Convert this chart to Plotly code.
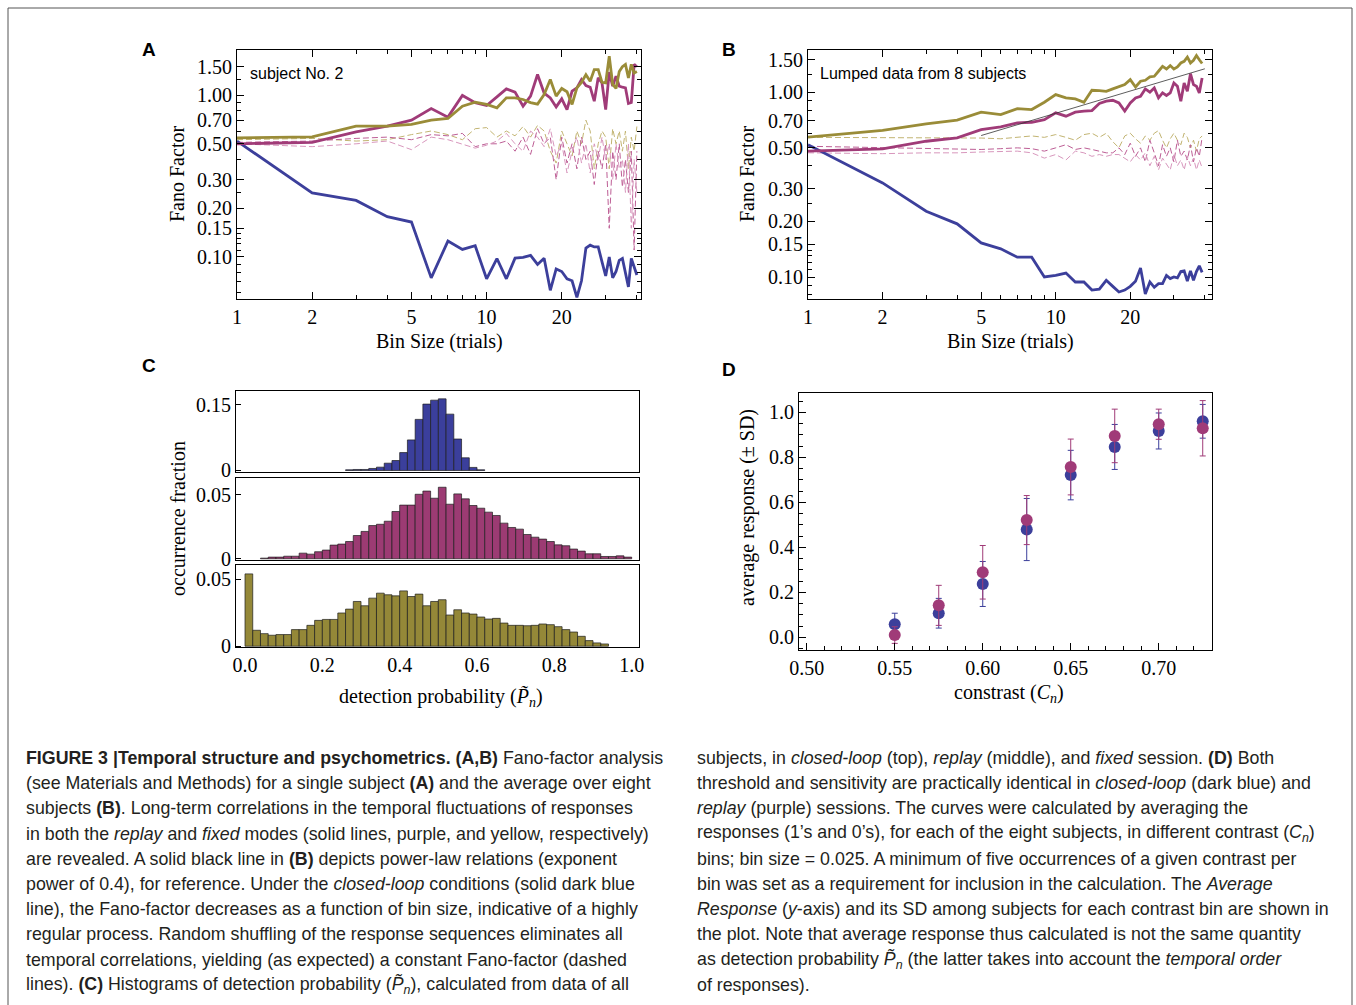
import plotly.graph_objects as go

W, H = 1356, 1005
def px(x): return x / W
def py(y): return 1 - y / H

BLUE = "#3c3f9b"
PURPLE = "#a03b78"
OLIVE = "#9a8c38"
D_OLIVE = "#c2b472"
D_PURPLE = "#bd5e95"
D_PINK = "#d897bd"

# ---------------- Panel A : subject No. 2 ----------------
bins_A = list(range(1, 41))
closed_A = [0.52, 0.248, 0.223, 0.177, 0.164, 0.074, 0.125, 0.111, 0.117, 0.073,
            0.0975, 0.073, 0.098, 0.099, 0.102, 0.0896, 0.098, 0.062, 0.084, 0.081,
            0.073, 0.071, 0.056, 0.071, 0.113, 0.118, 0.115, 0.115, 0.093, 0.076,
            0.0995, 0.074, 0.081, 0.095, 0.0975, 0.078, 0.065, 0.0975, 0.085, 0.077]
replay_A = [0.50, 0.51, 0.593, 0.643, 0.70, 0.827, 0.731, 0.996, 0.897, 0.863,
            0.976, 1.094, 1.044, 0.855, 0.986, 1.343, 1.03, 0.962, 0.846, 0.949,
            0.815, 1.059, 1.11, 1.25, 1.148, 1.12, 0.918, 1.28, 1.19, 0.815,
            1.39, 1.137, 1.31, 1.137, 1.12, 1.11, 0.888, 0.9, 1.55, 1.5]
fixed_A = [0.544, 0.552, 0.643, 0.643, 0.66, 0.70, 0.717, 0.855, 0.905, 0.876,
           0.835, 0.962, 0.962, 0.94, 0.9, 0.88, 1.01, 1.25, 0.986, 1.1,
           1.05, 0.876, 1.11, 1.2, 1.34, 1.22, 1.44, 1.44, 1.2, 1.19,
           1.74, 1.165, 1.1, 1.4, 1.5, 1.55, 1.28, 1.55, 1.37, 1.4]
shuf_fixed_A = [0.53, 0.54, 0.52, 0.53, 0.57, 0.6, 0.57, 0.53, 0.62, 0.63,
                0.55, 0.6, 0.56, 0.64, 0.55, 0.65, 0.6, 0.45, 0.38, 0.6,
                0.5, 0.42, 0.6, 0.5, 0.7, 0.6, 0.35, 0.5, 0.6, 0.55,
                0.35, 0.62, 0.5, 0.6, 0.45, 0.6, 0.35, 0.55, 0.45, 0.64]
shuf_replay_A = [0.51, 0.52, 0.54, 0.55, 0.53, 0.57, 0.56, 0.58, 0.48, 0.5,
                 0.5, 0.52, 0.45, 0.55, 0.43, 0.62, 0.5, 0.55, 0.3, 0.55,
                 0.38, 0.5, 0.35, 0.55, 0.4, 0.45, 0.28, 0.45, 0.35, 0.5,
                 0.15, 0.45, 0.3, 0.5, 0.27, 0.4, 0.25, 0.45, 0.11, 0.45]
shuf_closed_A = [0.50, 0.48, 0.50, 0.52, 0.46, 0.55, 0.53, 0.5, 0.47, 0.49,
                 0.52, 0.58, 0.5, 0.45, 0.6, 0.55, 0.48, 0.62, 0.42, 0.5,
                 0.33, 0.45, 0.55, 0.38, 0.5, 0.33, 0.5, 0.4, 0.55, 0.4,
                 0.5, 0.3, 0.5, 0.35, 0.4, 0.25, 0.5, 0.15, 0.4, 0.25]

# ---------------- Panel B : lumped data ----------------
bins_B = list(range(1, 40))
closed_B = [0.52, 0.323, 0.227, 0.194, 0.153, 0.142, 0.128, 0.128, 0.1, 0.102,
            0.105, 0.094, 0.094, 0.085, 0.086, 0.096, 0.089, 0.083, 0.085, 0.089,
            0.095, 0.112, 0.081, 0.094, 0.088, 0.092, 0.092, 0.102, 0.098, 0.1,
            0.099, 0.107, 0.108, 0.095, 0.108, 0.096, 0.107, 0.115, 0.106]
replay_B = [0.48, 0.494, 0.543, 0.566, 0.628, 0.65, 0.683, 0.688, 0.711, 0.773,
            0.742, 0.78, 0.79, 0.796, 0.869, 0.894, 0.905, 0.875, 0.79, 0.875,
            0.932, 0.951, 1.042, 1.0, 1.055, 0.932, 0.992, 0.96, 0.992, 1.123,
            1.077, 0.894, 1.123, 1.012, 1.26, 1.1, 1.077, 0.992, 1.195]
fixed_B = [0.571, 0.621, 0.674, 0.706, 0.78, 0.757, 0.816, 0.806, 0.883, 0.971,
           0.932, 0.92, 0.883, 1.025, 1.02, 1.012, 1.042, 1.077, 1.1, 1.17,
           1.068, 1.147, 1.161, 1.21, 1.22, 1.299, 1.38, 1.337, 1.394, 1.337,
           1.37, 1.44, 1.47, 1.55, 1.44, 1.49, 1.58, 1.5, 1.43]
shuf_fixed_B = [0.57, 0.57, 0.565, 0.565, 0.565, 0.56, 0.57, 0.58, 0.57, 0.59,
                0.57, 0.55, 0.59, 0.6, 0.57, 0.6, 0.54, 0.5, 0.58, 0.6,
                0.56, 0.53, 0.58, 0.55, 0.6, 0.62, 0.55, 0.5, 0.56, 0.6,
                0.55, 0.52, 0.6, 0.57, 0.5, 0.55, 0.48, 0.56, 0.58]
shuf_replay_B = [0.51, 0.5, 0.495, 0.49, 0.49, 0.495, 0.5, 0.495, 0.48, 0.5,
                 0.52, 0.49, 0.5, 0.49, 0.48, 0.47, 0.47, 0.5, 0.46, 0.53,
                 0.45, 0.5, 0.42, 0.55, 0.47, 0.4, 0.52, 0.45, 0.5, 0.42,
                 0.55, 0.45, 0.48, 0.43, 0.52, 0.42, 0.5, 0.45, 0.57]
shuf_closed_B = [0.47, 0.465, 0.47, 0.47, 0.475, 0.48, 0.48, 0.47, 0.44, 0.46,
                 0.43, 0.48, 0.47, 0.45, 0.46, 0.45, 0.46, 0.46, 0.44, 0.42,
                 0.46, 0.43, 0.47, 0.4, 0.45, 0.38, 0.44, 0.41, 0.38, 0.46,
                 0.4, 0.43, 0.38, 0.45, 0.4, 0.44, 0.38, 0.43, 0.39]
powerlaw_bins = [5, 40]
powerlaw_exp = 0.4
powerlaw_ref = 0.583   # value at bin size 5

# ---------------- Panel C : histograms ----------------
hist_width = 0.02
closed_lo = 0.26
closed_hist = [0.0015, 0.0023, 0.0023, 0.0046, 0.0076, 0.0167, 0.0228, 0.041, 0.07,
               0.117, 0.152, 0.161, 0.164, 0.129, 0.072, 0.029, 0.007, 0.0015]
replay_lo = 0.04
replay_hist = [0.0005, 0.0013, 0.0013, 0.002, 0.002, 0.0044, 0.0036, 0.0055, 0.0068,
               0.0107, 0.0115, 0.0135, 0.0182, 0.0214, 0.026, 0.027, 0.0294, 0.037,
               0.042, 0.042, 0.0505, 0.053, 0.0474, 0.056, 0.0427, 0.0508, 0.0469,
               0.0417, 0.0396, 0.0365, 0.0339, 0.0279, 0.0245, 0.0232, 0.019, 0.0169,
               0.0154, 0.0135, 0.0109, 0.0102, 0.0076, 0.006, 0.0039, 0.0039, 0.0018,
               0.0018, 0.0023, 0.0013]
fixed_lo = 0.0
fixed_hist = [0.054, 0.0119, 0.0094, 0.0082, 0.0087, 0.0087, 0.0124, 0.0124, 0.0156,
              0.0193, 0.02, 0.02, 0.0248, 0.0277, 0.0334, 0.0302, 0.0359, 0.0396,
              0.0384, 0.0376, 0.0413, 0.0371, 0.0389, 0.0302, 0.0334, 0.0347, 0.0233,
              0.0272, 0.0248, 0.024, 0.0218, 0.0203, 0.0208, 0.0173, 0.0156, 0.0156,
              0.0153, 0.0156, 0.0166, 0.0161, 0.0146, 0.0124, 0.0106, 0.0074, 0.0042,
              0.0025, 0.0017]

# ---------------- Panel D : psychometric ----------------
contrast = [0.55, 0.575, 0.60, 0.625, 0.65, 0.675, 0.70, 0.725]
resp_closed = [0.058, 0.107, 0.237, 0.479, 0.721, 0.846, 0.917, 0.96]
sd_closed = [0.049, 0.066, 0.10, 0.138, 0.11, 0.10, 0.08, 0.075]
resp_replay = [0.010, 0.142, 0.289, 0.521, 0.757, 0.895, 0.947, 0.929]
sd_replay = [0.037, 0.089, 0.119, 0.109, 0.124, 0.119, 0.067, 0.123]

fig = go.Figure()

def line(x, y, color, width, dash, xa, ya):
    fig.add_trace(go.Scatter(x=x, y=y, mode="lines", xaxis=xa, yaxis=ya,
                             line=dict(color=color, width=width, dash=dash),
                             showlegend=False, hoverinfo="skip"))

for xa, ya, b, cl, rp, fx, sf, sr, sc in [
        ("x", "y", bins_A, closed_A, replay_A, fixed_A, shuf_fixed_A, shuf_replay_A, shuf_closed_A),
        ("x2", "y2", bins_B, closed_B, replay_B, fixed_B, shuf_fixed_B, shuf_replay_B, shuf_closed_B)]:
    line(b, sf, D_OLIVE, 1, "6px,3px", xa, ya)
    line(b, sr, D_PURPLE, 1, "6px,3px", xa, ya)
    line(b, sc, D_PINK, 1, "6px,3px", xa, ya)
    line(b, cl, BLUE, 2.8, "solid", xa, ya)
    line(b, rp, PURPLE, 2.8, "solid", xa, ya)
    line(b, fx, OLIVE, 2.8, "solid", xa, ya)

pl_y = [powerlaw_ref * (n / powerlaw_bins[0]) ** powerlaw_exp for n in powerlaw_bins]
line(powerlaw_bins, pl_y, "#333333", 0.8, "solid", "x2", "y2")

def hist(lo, vals, color, xa, ya):
    centers = [lo + hist_width * (i + 0.5) for i in range(len(vals))]
    fig.add_trace(go.Bar(x=centers, y=vals, width=hist_width, xaxis=xa, yaxis=ya,
                         marker=dict(color=color, line=dict(color="#1c1c1c", width=0.7)),
                         showlegend=False, hoverinfo="skip"))

hist(closed_lo, closed_hist, "#3b3f9c", "x3", "y3")
hist(replay_lo, replay_hist, "#9c3b73", "x4", "y4")
hist(fixed_lo, fixed_hist, "#948838", "x5", "y5")

for resp, sd, col in [(resp_closed, sd_closed, BLUE), (resp_replay, sd_replay, PURPLE)]:
    fig.add_trace(go.Scatter(x=contrast, y=resp, mode="markers", xaxis="x6", yaxis="y6",
                             marker=dict(color=col, size=12),
                             error_y=dict(type="data", array=sd, color=col, thickness=1, width=3),
                             showlegend=False, hoverinfo="skip"))

SERIF = "Liberation Serif, Times New Roman, serif"
SANS = "Liberation Sans, Arial, sans-serif"
tickfont = dict(family=SERIF, size=20, color="black")

def frame(**kw):
    d = dict(showline=True, linecolor="black", linewidth=1, mirror=True,
             showgrid=False, zeroline=False, ticks="inside", ticklen=7,
             tickcolor="black", tickwidth=1, tickfont=tickfont, automargin=False)
    d.update(kw)
    return d

log_minor_x = dict(tickvals=[3, 4, 6, 7, 8, 9, 30, 40], ticks="inside", ticklen=4, tickcolor="black")
log_minor_y = dict(tickvals=[0.06, 0.07, 0.08, 0.09, 0.11, 0.12, 0.13, 0.14, 0.25, 0.4, 0.6, 0.8, 0.9, 1.25],
                   ticks="inside", ticklen=4, tickcolor="black")
yv = [0.1, 0.15, 0.2, 0.3, 0.5, 0.7, 1.0, 1.5]
yt = ["%.2f" % v for v in yv]
xv = [1, 2, 5, 10, 20]

layout = dict(
    template="none",
    width=W, height=H, margin=dict(l=0, r=0, t=0, b=0, pad=0, autoexpand=False),
    paper_bgcolor="white", plot_bgcolor="white", barmode="overlay", bargap=0,
    showlegend=False, hovermode=False,
    xaxis=frame(type="log", domain=[px(237), px(641)], range=[0, 1.6186], anchor="y",
                tickvals=xv, ticktext=[str(v) for v in xv], mirror="allticks", minor=log_minor_x),
    yaxis=frame(type="log", domain=[py(299), py(49.5)], range=[-1.2616, 0.2826], anchor="x",
                tickvals=yv, ticktext=yt, mirror="allticks", minor=log_minor_y),
    xaxis2=frame(type="log", domain=[px(808), px(1212)], range=[0, 1.631], anchor="y2",
                 tickvals=xv, ticktext=[str(v) for v in xv], mirror="allticks", minor=log_minor_x),
    yaxis2=frame(type="log", domain=[py(299), py(50)], range=[-1.119, 0.2286], anchor="x2",
                 tickvals=yv, ticktext=yt, mirror="allticks", minor=log_minor_y),
    xaxis3=frame(domain=[px(236), px(638.5)], range=[-0.0233, 1.0176], anchor="y3",
                 showticklabels=False, ticks=""),
    yaxis3=frame(domain=[py(472), py(391)], range=[-0.0035, 0.182], anchor="x3",
                 tickvals=[0, 0.15], ticktext=["0", "0.15"], ticklen=5),
    xaxis4=frame(domain=[px(236), px(638.5)], range=[-0.0233, 1.0176], anchor="y4",
                 showticklabels=False, ticks=""),
    yaxis4=frame(domain=[py(560.3), py(478.3)], range=[-0.0012, 0.063], anchor="x4",
                 tickvals=[0, 0.05], ticktext=["0", "0.05"], ticklen=5),
    xaxis5=frame(domain=[px(236), px(638.5)], range=[-0.0233, 1.0176], anchor="y5",
                 tickvals=[0, 0.2, 0.4, 0.6, 0.8, 1.0],
                 ticktext=["0.0", "0.2", "0.4", "0.6", "0.8", "1.0"], ticks=""),
    yaxis5=frame(domain=[py(647.3), py(565.3)], range=[-0.0008, 0.0604], anchor="x5",
                 tickvals=[0, 0.05], ticktext=["0", "0.05"], ticklen=5),
    xaxis6=frame(domain=[px(799), px(1211.7)], range=[0.4956, 0.7301], anchor="y6",
                 tickvals=[0.5, 0.55, 0.6, 0.65, 0.7],
                 ticktext=["0.50", "0.55", "0.60", "0.65", "0.70"],
                 minor=dict(dtick=0.01, tick0=0.5, ticks="inside", ticklen=4, tickcolor="black")),
    yaxis6=frame(domain=[py(650), py(392.7)], range=[-0.0564, 1.0871], anchor="x6",
                 tickvals=[0, 0.2, 0.4, 0.6, 0.8, 1.0],
                 ticktext=["0.0", "0.2", "0.4", "0.6", "0.8", "1.0"],
                 minor=dict(dtick=0.05, tick0=0, ticks="inside", ticklen=4, tickcolor="black")),
)
fig.update_layout(**layout)

ann = []
def text(x, y, s, size=20, family=SERIF, angle=0, xanchor="center", color="black"):
    ann.append(dict(x=px(x), y=py(y), xref="paper", yref="paper", text=s, showarrow=False,
                    xanchor=xanchor, yanchor="middle", textangle=angle, borderpad=0,
                    font=dict(family=family, size=size, color=color)))

# panel letters
for lx, ly, L in [(149, 50, "A"), (729, 50, "B"), (149, 365, "C"), (729, 369, "D")]:
    text(lx, ly, "<b>%s</b>" % L, size=19, family=SANS)

# axis titles
text(177, 174, "Fano Factor", angle=-90)
text(439, 342, "Bin Size (trials)")
text(747, 174, "Fano Factor", angle=-90)
text(1010, 342, "Bin Size (trials)")
text(178, 519, "occurrence fraction", angle=-90)
text(441, 697, "detection probability (<i>P̃</i><sub><i>n</i></sub>)")
text(748, 508, "average response (± SD)", angle=-90)
text(1009, 693, "constrast (<i>C</i><sub><i>n</i></sub>)")

# in-plot labels
text(249, 73, "subject No. 2", size=16, family=SANS, xanchor="left")
text(819, 73, "Lumped data from 8 subjects", size=16, family=SANS, xanchor="left")

caption_left = [
    "<b>FIGURE 3 |Temporal structure and psychometrics. (A,B)</b> Fano-factor analysis",
    "(see Materials and Methods) for a single subject <b>(A)</b> and the average over eight",
    "subjects <b>(B)</b>. Long-term correlations in the temporal fluctuations of responses",
    "in both the <i>replay</i> and <i>fixed</i> modes (solid lines, purple, and yellow, respectively)",
    "are revealed. A solid black line in <b>(B)</b> depicts power-law relations (exponent",
    "power of 0.4), for reference. Under the <i>closed-loop</i> conditions (solid dark blue",
    "line), the Fano-factor decreases as a function of bin size, indicative of a highly",
    "regular process. Random shuffling of the response sequences eliminates all",
    "temporal correlations, yielding (as expected) a constant Fano-factor (dashed",
    "lines). <b>(C)</b> Histograms of detection probability (<i>P̃</i><sub><i>n</i></sub>), calculated from data of all",
]
caption_right = [
    "subjects, in <i>closed-loop</i> (top), <i>replay</i> (middle), and <i>fixed</i> session. <b>(D)</b> Both",
    "threshold and sensitivity are practically identical in <i>closed-loop</i> (dark blue) and",
    "<i>replay</i> (purple) sessions. The curves were calculated by averaging the",
    "responses (1’s and 0’s), for each of the eight subjects, in different contrast (<i>C</i><sub><i>n</i></sub>)",
    "bins; bin size = 0.025. A minimum of five occurrences of a given contrast per",
    "bin was set as a requirement for inclusion in the calculation. The <i>Average</i>",
    "<i>Response</i> (<i>y</i>-axis) and its SD among subjects for each contrast bin are shown in",
    "the plot. Note that average response thus calculated is not the same quantity",
    "as detection probability <i>P̃</i><sub><i>n</i></sub> (the latter takes into account the <i>temporal order</i>",
    "of responses).",
]
CAP = "Liberation Sans, Arial, sans-serif"
for i, s in enumerate(caption_left):
    text(25, 758 + i * 25.2, s, size=17.8, family=CAP, xanchor="left", color="#231f20")
for i, s in enumerate(caption_right):
    text(696, 758 + i * 25.2, s, size=17.8, family=CAP, xanchor="left", color="#231f20")

fig.update_layout(annotations=ann)

fig.add_shape(type="rect", xref="paper", yref="paper", x0=px(8), y0=py(8), x1=px(1352), y1=py(1012),
              line=dict(color="#555555", width=1), fillcolor="rgba(0,0,0,0)")

fig.write_html("out.html", config={"displayModeBar": False, "staticPlot": True},
               post_script="document.body.style.margin='0px';")
